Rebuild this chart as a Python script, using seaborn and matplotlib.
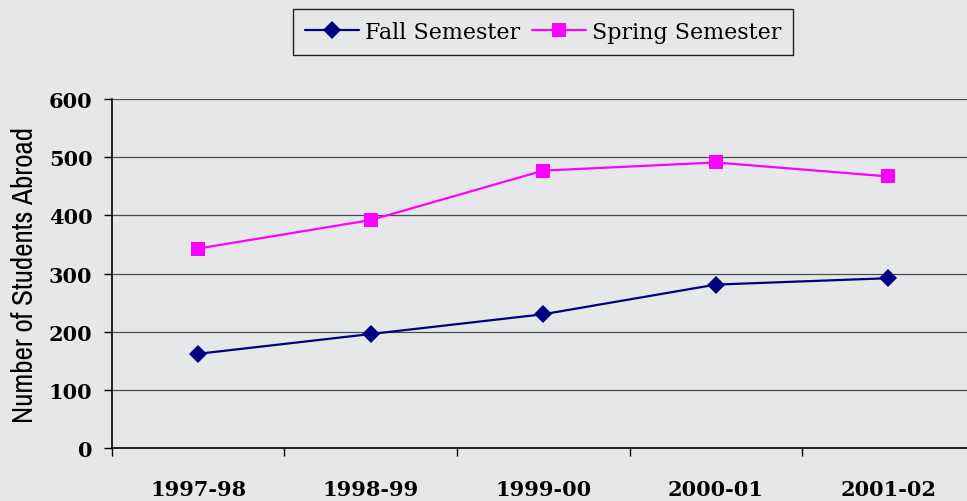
import pandas as pd
import numpy as np
import matplotlib.pyplot as plt
import seaborn as sns
from matplotlib import font_manager

years = ['1997-98', '1998-99', '1999-00', '2000-01', '2001-02']
fall = [162, 196, 230, 281, 292]
spring = [343, 392, 477, 491, 467]

df = pd.DataFrame({
    'Year': years * 2,
    'Students': fall + spring,
    'Term': ['Fall Semester'] * 5 + ['Spring Semester'] * 5,
})

bg = '#e6e7e9'
sns.set_style("white", {'axes.facecolor': bg, 'figure.facecolor': bg})
plt.rcParams.update({'text.color': 'black', 'axes.labelcolor': 'black',
                     'xtick.color': 'black', 'ytick.color': 'black'})

names = sorted({f.name for f in font_manager.fontManager.ttflist})
narrow = [n for n in names if 'Narrow' in n] or [n for n in names if 'Condensed' in n]

fig = plt.figure(figsize=(9.67, 5.02), dpi=100)
ax = fig.add_axes([0.1158, 0.1056, 0.892, 0.695])

sns.lineplot(data=df, x='Year', y='Students', hue='Term', style='Term',
             palette={'Fall Semester': '#000080', 'Spring Semester': '#ff00ff'},
             markers={'Fall Semester': 'D', 'Spring Semester': 's'},
             dashes=False, markersize=9.5, markeredgewidth=0, linewidth=1.6,
             ax=ax)

ax.set_xlim(-0.5, 4.5)
ax.set_ylim(0, 600)
ax.set_yticks(range(0, 601, 100))
ax.yaxis.grid(True, color='#4d4d4d', linewidth=0.9)
ax.set_axisbelow(True)

# category boundaries as ticks, labels in the middle
ax.set_xticks(np.arange(-0.5, 4.6, 1), minor=True)
ax.tick_params(axis='x', which='major', length=0, pad=22)
ax.tick_params(axis='x', which='minor', length=6, width=1, color='black', direction='out', bottom=True)
ax.tick_params(axis='y', length=6, width=1, color='black', direction='out', left=True, pad=8)

for lab in ax.get_xticklabels() + ax.get_yticklabels():
    lab.set_family(['DejaVu Serif'])
    lab.set_fontweight('bold')
    lab.set_fontsize(15)
    lab.set_color('black')

for s in ['top', 'right']:
    ax.spines[s].set_visible(False)
for s in ['left', 'bottom']:
    ax.spines[s].set_color('black')
    ax.spines[s].set_linewidth(1.2)

ax.set_xlabel('')
if narrow:
    ax.set_ylabel('Number of Students Abroad', family=[narrow[0], 'DejaVu Sans'],
                  fontsize=21, labelpad=8)
else:
    ax.set_ylabel('Number of Students Abroad', family=['DejaVu Sans'],
                  fontsize=15.5, labelpad=12)

leg = ax.legend(loc='upper center', bbox_to_anchor=(0.5, 1.291), ncol=2, frameon=True,
                fancybox=False, edgecolor='#222222', framealpha=1, handlelength=2.4,
                columnspacing=0.55, handletextpad=0.28, borderpad=0.55,
                prop={'family': 'DejaVu Serif', 'size': 16})
leg.get_frame().set_linewidth(1.0)

fig.savefig('out.png', dpi=100, facecolor=bg)
